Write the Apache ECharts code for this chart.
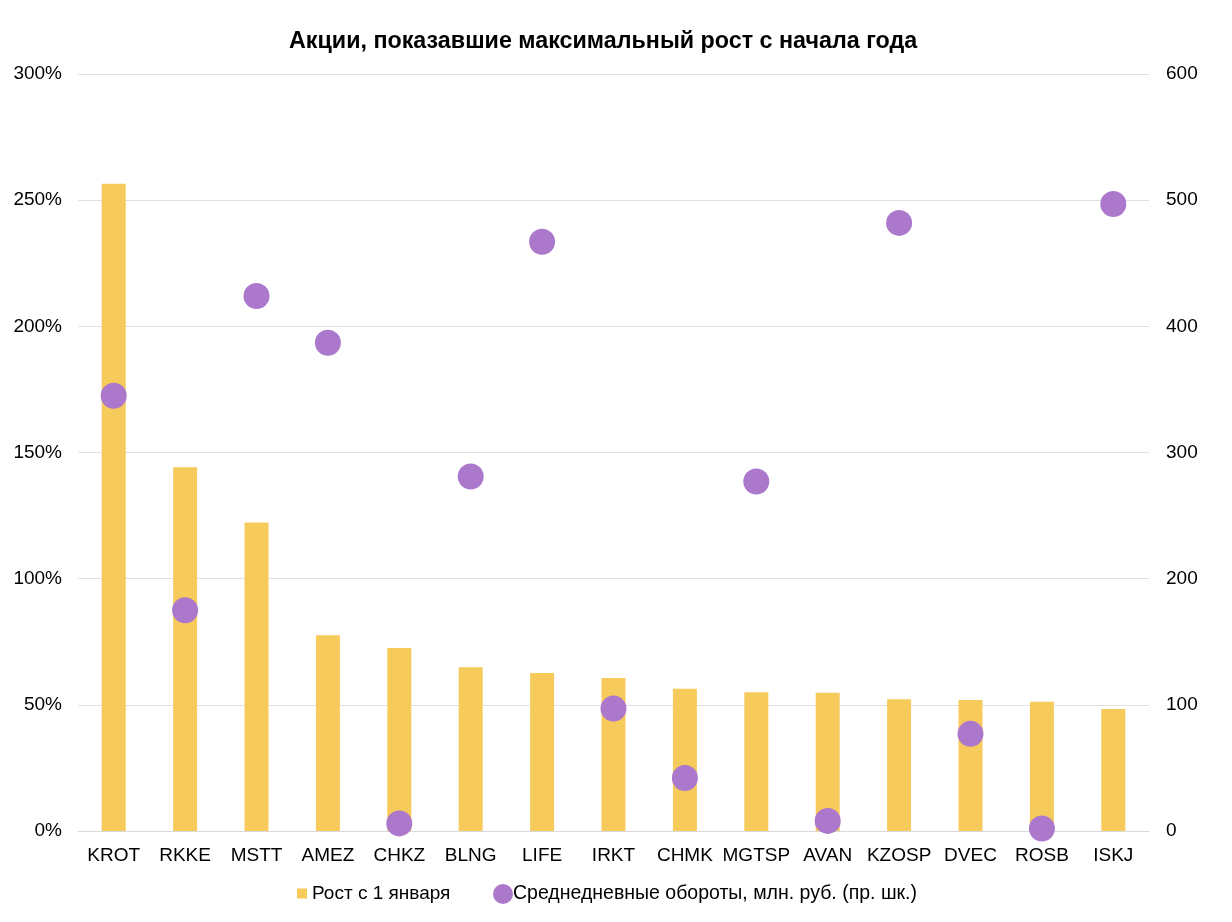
<!DOCTYPE html>
<html><head><meta charset="utf-8">
<script src="https://cdn.jsdelivr.net/npm/echarts@6/dist/echarts.min.js"></script>
<style>html,body{margin:0;padding:0;background:#fff}#c{width:1232px;height:922px}</style>
</head><body><div id="c"></div>
<script>
const categories = ['KROT','RKKE','MSTT','AMEZ','CHKZ','BLNG','LIFE','IRKT','CHMK','MGTSP','AVAN','KZOSP','DVEC','ROSB','ISKJ'];
const growth = [256.5, 144.2, 122.3, 77.6, 72.5, 64.9, 62.6, 60.6, 56.4, 55.0, 54.8, 52.2, 51.9, 51.2, 48.3];
const turnover = [345, 175, 424, 387, 6, 281, 467, 97, 42, 277, 8, 482, 77, 2, 497];
const growthName = 'Рост с 1 января';
const turnoverName = 'Среднедневные обороты, млн. руб. (пр. шк.)';
const titleText = 'Акции, показавшие максимальный рост с начала года';

const chart = echarts.init(document.getElementById('c'));
const font = 'Liberation Sans, Arial, sans-serif';
chart.setOption({
  animation: false,
  textStyle: {fontFamily: font},
  title: {text: titleText, left: 284, top: 25, textStyle: {fontFamily: font, fontSize: 23.3, fontWeight: 'bold', color: '#000'}},
  legend: [
    {data: [{name: growthName, icon: 'rect'}], left: 292, top: 879, itemWidth: 10, itemHeight: 10, itemGap: 5,
     textStyle: {fontFamily: font, fontSize: 19, color: '#000'}},
    {data: [{name: turnoverName, icon: 'circle'}], left: 488, top: 879, itemWidth: 20, itemHeight: 20,
     textStyle: {fontFamily: font, fontSize: 19.5, color: '#000', padding: [0,0,0,-5]}}
  ],
  grid: {left: 78, right: 83, top: 74, bottom: 91},
  xAxis: {type: 'category', data: categories,
    axisLine: {show: true, lineStyle: {color: '#d9d9d9'}}, axisTick: {show: false},
    axisLabel: {color: '#000', fontSize: 19, fontFamily: font, margin: 15, interval: 0}},
  yAxis: [
    {type: 'value', min: 0, max: 300, interval: 50,
     axisLabel: {formatter: '{value}%', color: '#000', fontSize: 19, fontFamily: font, margin: 16},
     splitLine: {lineStyle: {color: '#e0e0e0'}}, axisLine: {show: false}, axisTick: {show: false}},
    {type: 'value', min: 0, max: 600, interval: 100,
     axisLabel: {color: '#000', fontSize: 19, fontFamily: font, margin: 17},
     splitLine: {show: false}, axisLine: {show: false}, axisTick: {show: false}}
  ],
  series: [
    {name: growthName, type: 'bar', data: growth, barWidth: 24, yAxisIndex: 0,
     itemStyle: {color: '#F7CA5C'}},
    {name: turnoverName, type: 'scatter', data: turnover, yAxisIndex: 1, symbolSize: 26,
     itemStyle: {color: '#AB78CC', opacity: 1}}
  ]
});
</script></body></html>
